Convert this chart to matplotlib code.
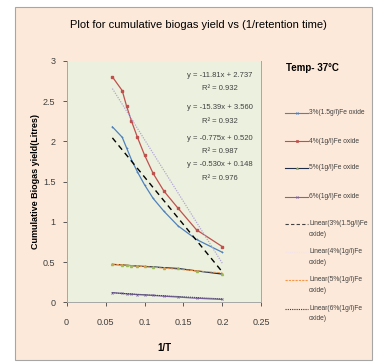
import numpy as np
import matplotlib.pyplot as plt
from matplotlib.patches import Rectangle
from matplotlib.lines import Line2D

plt.rcParams['font.family'] = ['Liberation Sans Narrow', 'Liberation Sans', 'DejaVu Sans']

# data
inv_t = [0.0588, 0.0714, 0.0769, 0.0833, 0.0909, 0.1, 0.1111, 0.125, 0.1429, 0.1667, 0.2]
y_3pct = [2.18, 2.05, 1.92, 1.77, 1.62, 1.46, 1.29, 1.13, 0.95, 0.78, 0.62]
y_4pct = [2.80, 2.63, 2.44, 2.25, 2.05, 1.83, 1.60, 1.38, 1.17, 0.90, 0.69]
y_5pct = [0.47, 0.465, 0.46, 0.455, 0.45, 0.445, 0.44, 0.43, 0.42, 0.39, 0.35]
y_6pct = [0.12, 0.11, 0.105, 0.10, 0.095, 0.09, 0.085, 0.075, 0.065, 0.05, 0.035]

names = ['3%(1.5g/l)Fe oxide', '4%(1g/l)Fe oxide', '5%(1g/l)Fe oxide', '6%(1g/l)Fe oxide']
slopes = [-11.81, -15.39, -0.775, -0.530]
intercepts = [2.737, 3.560, 0.520, 0.148]
eq_text = ['y = -11.81x + 2.737', 'y = -15.39x + 3.560', 'y = -0.775x + 0.520', 'y = -0.530x + 0.148']
r2_text = ['R² = 0.932', 'R² = 0.932', 'R² = 0.987', 'R² = 0.976']

fig = plt.figure(figsize=(3.74, 3.62), dpi=100)
fig.patch.set_facecolor('white')
fig.patches.append(Rectangle((15 / 374, 2 / 362), 357 / 374, 353 / 362, transform=fig.transFigure,
                             facecolor='#fde9d9', edgecolor='#a6a6a6', lw=0.8, zorder=-1))

ax = fig.add_axes([0.178, 0.165, 0.521, 0.667])
ax.set_facecolor('#ebf1de')

l1, = ax.plot(inv_t, y_3pct, color='#4f81bd', lw=0.9, marker='+', ms=2, mew=0.5)
l2, = ax.plot(inv_t, y_4pct, color='#c0504d', lw=0.9, marker='s', ms=1.6)
l3, = ax.plot(inv_t, y_5pct, color='#1f2d4a', lw=0.9, marker='^', ms=1.5, mfc='#9bbb59', mec='#9bbb59')
l4, = ax.plot(inv_t, y_6pct, color='#8064a2', lw=0.9, marker='x', ms=1.5, mew=0.5)

# trendlines from the printed equations
xs = np.array([inv_t[0], inv_t[-1]])
t_styles = [('black', (0, (4, 3)), 1.0), ('#b4a7d6', (0, (1, 1)), 0.9),
            ('#f79646', (0, (3, 1)), 0.7), ('#333355', (0, (1, 1)), 0.7)]
for (c, ls, w), m, b in zip(t_styles, slopes, intercepts):
    ax.plot(xs, m * xs + b, color=c, ls=ls, lw=w)

eq_y = [2.82, 2.42, 2.04, 1.71]
for yy, e, r in zip(eq_y, eq_text, r2_text):
    ax.text(0.197, yy, e, fontsize=5.5, ha='center', va='center', color='#404040')
    ax.text(0.197, yy - 0.17, r, fontsize=5.5, ha='center', va='center', color='#404040')

ax.set_xlim(0, 0.25)
ax.set_ylim(0, 3)
ax.set_xticks([0, 0.05, 0.1, 0.15, 0.2, 0.25])
ax.set_xticklabels(['0', '0.05', '0.1', '0.15', '0.2', '0.25'])
ax.set_yticks([0, 0.5, 1, 1.5, 2, 2.5, 3])
ax.set_yticklabels(['0', '0.5', '1', '1.5', '2', '2.5', '3'])
ax.tick_params(labelsize=6.5, colors='#404040', length=3, width=0.6)
ax.tick_params(axis='x', pad=8)
ax.tick_params(axis='y', pad=5)
for s in ['left', 'bottom', 'right']:
    ax.spines[s].set_color('#a6a6a6')
    ax.spines[s].set_linewidth(0.7)
ax.spines['top'].set_visible(False)

ax.set_xlabel('1/T', fontsize=7, fontweight='bold', labelpad=12)
ax.set_ylabel('Cumulative Biogas yield(Litres)', fontsize=6.5, fontweight='bold', labelpad=2)

fig.text(0.53, 0.93, 'Plot for cumulative biogas yield vs (1/retention time)', fontsize=8,
         ha='center', va='center')

# legend drawn by hand to match the spacing of the original
fig.text(312 / 374, 1 - 68 / 362, 'Temp- 37°C', fontsize=7, fontweight='bold', ha='center', va='center')
leg_lines = [('#4f81bd', '-', 'x', '#4f81bd'), ('#c0504d', '-', 's', '#c0504d'),
             ('#1f2d4a', '-', '^', '#9bbb59'), ('#8064a2', '-', 'x', '#8064a2'),
             ('#404040', (0, (3, 2)), '', None), ('#f3e4ea', (0, (1, 1)), '', None),
             ('#f79646', (0, (2, 1)), '', None), ('#333355', (0, (1, 1)), '', None)]
labels = names + ['Linear(3%(1.5g/l)Fe\noxide)', 'Linear(4%(1g/l)Fe\noxide)',
                  'Linear(5%(1g/l)Fe\noxide)', 'Linear(6%(1g/l)Fe\noxide)']
leg_y = [113, 141, 168, 197, 224, 252, 280, 309]
for (c, ls, mk, mc), lab, ypx in zip(leg_lines, labels, leg_y):
    yy = 1 - ypx / 362
    fig.lines.append(Line2D([285 / 374, 308 / 374], [yy, yy], transform=fig.transFigure,
                            color=c, ls=ls, lw=0.8))
    if mk:
        fig.lines.append(Line2D([296.5 / 374], [yy], transform=fig.transFigure, color=mc,
                                marker=mk, ms=1.6, mew=0.5, mfc=mc, mec=mc))
    if '\n' in lab:
        fig.text(309 / 374, yy + 4 / 362, lab, fontsize=4.8, ha='left', va='top',
                 color='#404040', linespacing=1.7)
    else:
        fig.text(309 / 374, yy, lab, fontsize=4.8, ha='left', va='center', color='#404040')

fig.savefig('out.png', dpi=100)
